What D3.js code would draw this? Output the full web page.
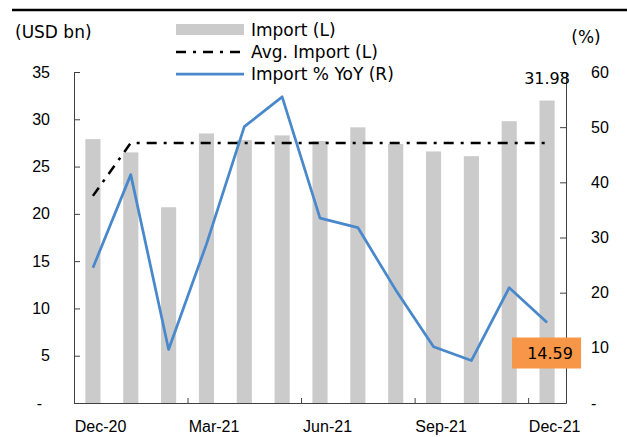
<!DOCTYPE html>
<html>
<head>
<meta charset="utf-8">
<script src="https://cdn.jsdelivr.net/npm/d3@7"></script>
<style>
  body { margin: 0; background: #fff; }
  svg { display: block; font-family: "DejaVu Sans", sans-serif; }
  .axis path, .axis line { stroke: #404040; }
  .axis text { fill: #000; font-size: 16px; }
</style>
</head>
<body>
<svg id="chart" width="627" height="437"></svg>
<script>
// months on the category axis
const months = ['Dec-20', 'Jan-21', 'Feb-21', 'Mar-21', 'Apr-21', 'May-21', 'Jun-21',
                'Jul-21', 'Aug-21', 'Sep-21', 'Oct-21', 'Nov-21', 'Dec-21']
// import, USD bn (left axis)
const imports = [27.9, 26.5, 20.7, 28.5, 27.8, 28.3, 27.7, 29.15, 27.4, 26.6, 26.1, 29.8, 31.98]
// average import, USD bn (left axis)
const avgImport = [21.9, 27.5, 27.5, 27.5, 27.5, 27.5, 27.5, 27.5, 27.5, 27.5, 27.5, 27.5, 27.5]
// import % yoy (right axis)
const importYoY = [24.5, 41.4, 9.7, 28.8, 50.1, 55.5, 33.5, 31.8, 20.5, 10.2, 7.7, 20.9, 14.59]
// tick labels
const xLabels = ['Dec-20', 'Mar-21', 'Jun-21', 'Sep-21', 'Dec-21']
const leftTicks = [0, 5, 10, 15, 20, 25, 30, 35]
const rightTicks = [0, 10, 20, 30, 40, 50, 60]

const svg = d3.select('#chart')
const plotLeft = 74, plotRight = 566, plotTop = 72, plotBottom = 403

const x = d3.scaleBand().domain(months).range([plotLeft, plotRight]).paddingInner(0.6).paddingOuter(0.3)
const xIdx = d3.scaleLinear().domain([0, months.length]).range([plotLeft, plotRight])
const yL = d3.scaleLinear().domain([0, 35]).range([plotBottom, plotTop])
const yR = d3.scaleLinear().domain([0, 60]).range([plotBottom, plotTop])
const cx = m => x(m) + x.bandwidth() / 2

// top rule
svg.append('line').attr('x1', 12).attr('x2', 627).attr('y1', 10).attr('y2', 10)
    .attr('stroke', '#000').attr('stroke-width', 2.5)

// bars
svg.append('g').selectAll('rect').data(imports).join('rect')
    .attr('x', (d, i) => x(months[i]))
    .attr('y', d => yL(d))
    .attr('width', x.bandwidth())
    .attr('height', d => plotBottom - yL(d))
    .attr('fill', '#cbcbcb')

// axes
const gL = svg.append('g').attr('class', 'axis').attr('transform', `translate(${plotLeft},0)`)
    .call(d3.axisLeft(yL).tickValues(leftTicks).tickSizeInner(-6).tickSizeOuter(0).tickPadding(24)
        .tickFormat(d => d === 0 ? '-' : d))
gL.selectAll('.tick text').filter(d => d === 0).attr('dx', -8)

const gR = svg.append('g').attr('class', 'axis').attr('transform', `translate(${plotRight},0)`)
    .call(d3.axisRight(yR).tickValues(rightTicks).tickSizeInner(-6).tickSizeOuter(0).tickPadding(25)
        .tickFormat(d => d === 0 ? '-' : d))

svg.append('g').attr('class', 'axis').attr('transform', `translate(0,${plotBottom})`)
    .call(d3.axisBottom(xIdx).tickValues([3, 6, 9, 12]).tickSizeInner(-5).tickSizeOuter(0).tickFormat(''))

svg.append('g').attr('class', 'axis').attr('transform', `translate(${x.bandwidth() / 2},${plotBottom})`)
    .call(d3.axisBottom(x).tickValues(xLabels).tickSize(0).tickPadding(18))
    .call(g => g.select('.domain').remove())

// avg import line
svg.append('path')
    .attr('d', d3.line().x((d, i) => cx(months[i])).y(d => yL(d))(avgImport))
    .attr('fill', 'none').attr('stroke', '#000').attr('stroke-width', 2.5)
    .attr('stroke-dasharray', '10,7,3,7')

// yoy line
svg.append('path')
    .attr('d', d3.line().x((d, i) => cx(months[i])).y(d => yR(d))(importYoY))
    .attr('fill', 'none').attr('stroke', '#4a88cc').attr('stroke-width', 2.75)
    .attr('stroke-linejoin', 'round')

// labels on last points
const lastM = months[months.length - 1]
svg.append('text').attr('x', cx(lastM)).attr('y', yL(imports[imports.length - 1]) - 17)
    .attr('text-anchor', 'middle').attr('font-size', 16).text(imports[imports.length - 1].toFixed(2))

const ly = yR(importYoY[importYoY.length - 1])
svg.append('rect').attr('x', cx(lastM) - 35).attr('y', ly + 15).attr('width', 69).attr('height', 31)
    .attr('fill', '#f79646')
svg.append('text').attr('x', cx(lastM) + 3).attr('y', ly + 36)
    .attr('text-anchor', 'middle').attr('font-size', 16).text(importYoY[importYoY.length - 1].toFixed(2))

// axis titles
svg.append('text').attr('x', 15).attr('y', 38).attr('font-size', 17).text('(USD bn)')
svg.append('text').attr('x', 586).attr('y', 43).attr('text-anchor', 'middle').attr('font-size', 17).text('(%)')

// legend
const legend = svg.append('g').attr('font-size', 17)
const rows = [
    { label: 'Import (L)', type: 'bar' },
    { label: 'Avg. Import (L)', type: 'dash' },
    { label: 'Import % YoY (R)', type: 'line' }
]
rows.forEach((r, i) => {
    const yy = 30 + i * 22
    if (r.type === 'bar') {
        legend.append('rect').attr('x', 176).attr('y', yy - 6).attr('width', 68).attr('height', 11).attr('fill', '#cbcbcb')
    } else {
        legend.append('line').attr('x1', 176).attr('x2', 244).attr('y1', yy).attr('y2', yy)
            .attr('stroke', r.type === 'dash' ? '#000' : '#4a88cc')
            .attr('stroke-width', r.type === 'dash' ? 2.5 : 2.75)
            .attr('stroke-dasharray', r.type === 'dash' ? '10,7,3,7' : null)
    }
    legend.append('text').attr('x', 251).attr('y', yy + 6).text(r.label)
})
</script>
</body>
</html>
